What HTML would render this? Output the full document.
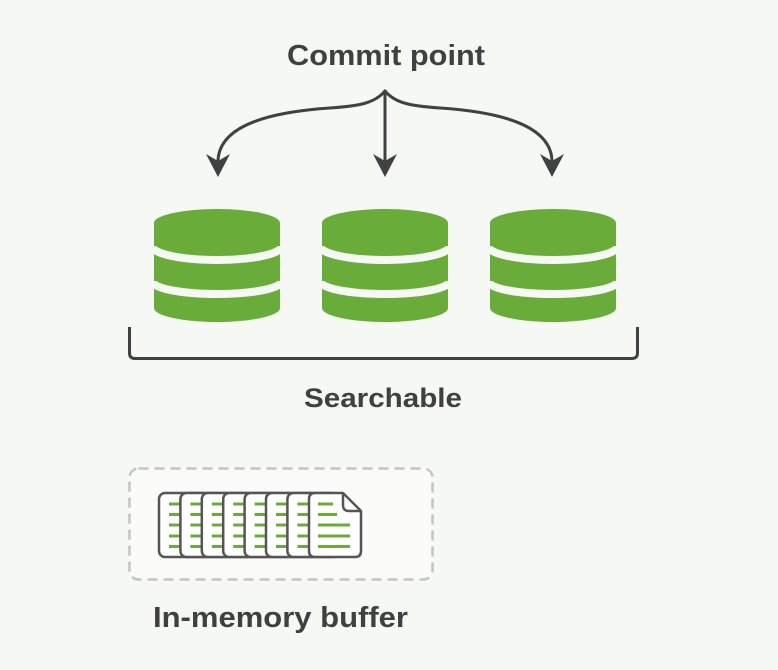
<!DOCTYPE html>
<html>
<head>
<meta charset="utf-8">
<style>
  html,body{margin:0;padding:0;background:#f6f8f3;}
  svg{display:block;}
  text{font-family:"Liberation Sans",sans-serif;font-weight:bold;fill:#404040;}
</style>
</head>
<body>
<svg width="778" height="670" viewBox="0 0 778 670" xmlns="http://www.w3.org/2000/svg">
  <rect x="0" y="0" width="778" height="670" fill="#f6f8f3"/>

  <!-- Title -->
  <text x="287" y="65" font-size="29" textLength="198" lengthAdjust="spacingAndGlyphs">Commit point</text>

  <!-- Arrows -->
  <g stroke="#414141" stroke-width="3" fill="none" stroke-linecap="round">
    <path d="M385,91 V160"/>
    <path d="M385,91 C375,103 360,106 330,108 C270,112 220,125 218,160"/>
    <path d="M385,91 C395,103 410,106 440,108 C500,112 550,125 552,160"/>
  </g>
  <g fill="#414141">
    <polygon points="373,154 385,177 397,154 385,161"/>
    <polygon points="206,154 218,177 230,154 218,161"/>
    <polygon points="540,154 552,177 564,154 552,161"/>
  </g>

  <!-- Cylinders -->
  <defs>
    <g id="cyl">
      <path d="M0,223 A63,14 0 0 1 126,223 V308 A63,14 0 0 1 0,308 Z" fill="#6aac39"/>
      <path d="M-2,246 A65,14 0 0 0 128,246" fill="none" stroke="#f6f8f3" stroke-width="8"/>
      <path d="M-2,281 A65,13 0 0 0 128,281" fill="none" stroke="#f6f8f3" stroke-width="8"/>
    </g>
  </defs>
  <use href="#cyl" x="154" y="0"/>
  <use href="#cyl" x="322" y="0"/>
  <use href="#cyl" x="490" y="0"/>

  <!-- Bracket -->
  <path d="M129.5,327 V353 Q129.5,358.5 135,358.5 H632 Q637.5,358.5 637.5,353 V327" fill="none" stroke="#414141" stroke-width="3"/>

  <text x="304" y="407" font-size="27" textLength="158" lengthAdjust="spacingAndGlyphs">Searchable</text>

  <!-- Dashed buffer box -->
  <rect x="129.5" y="468.5" width="303" height="111" rx="9" ry="9" fill="#fbfcfa" stroke="#c4c4c4" stroke-width="2.5" stroke-dasharray="10 6"/>

  <!-- Documents -->
  <defs>
    <g id="page">
      <rect x="0" y="0" width="52" height="64" rx="6" ry="6" fill="#ffffff" stroke="#555" stroke-width="2.5"/>
      <g stroke="#6aac39" stroke-width="3">
        <line x1="10" y1="11" x2="21" y2="11"/>
        <line x1="10" y1="21.5" x2="21" y2="21.5"/>
        <line x1="10" y1="32" x2="21" y2="32"/>
        <line x1="10" y1="43" x2="21" y2="43"/>
        <line x1="10" y1="53.5" x2="21" y2="53.5"/>
      </g>
    </g>
  </defs>
  <use href="#page" x="159" y="493"/>
  <use href="#page" x="180.4" y="493"/>
  <use href="#page" x="201.8" y="493"/>
  <use href="#page" x="223.2" y="493"/>
  <use href="#page" x="244.6" y="493"/>
  <use href="#page" x="266" y="493"/>
  <use href="#page" x="287.4" y="493"/>
  <!-- last page with folded corner -->
  <path d="M315,493 H343 L361,511 V551 Q361,557 355,557 H315 Q309,557 309,551 V499 Q309,493 315,493 Z" fill="#ffffff" stroke="#555" stroke-width="2.5" stroke-linejoin="round"/>
  <path d="M343,493 V505 Q343,511 349,511 H361" fill="none" stroke="#555" stroke-width="2.5" stroke-linejoin="round"/>
  <g stroke="#6aac39" stroke-width="3">
    <line x1="318" y1="504" x2="333" y2="504"/>
    <line x1="318" y1="514.5" x2="337" y2="514.5"/>
    <line x1="318" y1="525" x2="350" y2="525"/>
    <line x1="318" y1="536" x2="350" y2="536"/>
    <line x1="318" y1="546.5" x2="350" y2="546.5"/>
  </g>

  <text x="153" y="627" font-size="29" textLength="255" lengthAdjust="spacingAndGlyphs">In-memory buffer</text>
</svg>
</body>
</html>
